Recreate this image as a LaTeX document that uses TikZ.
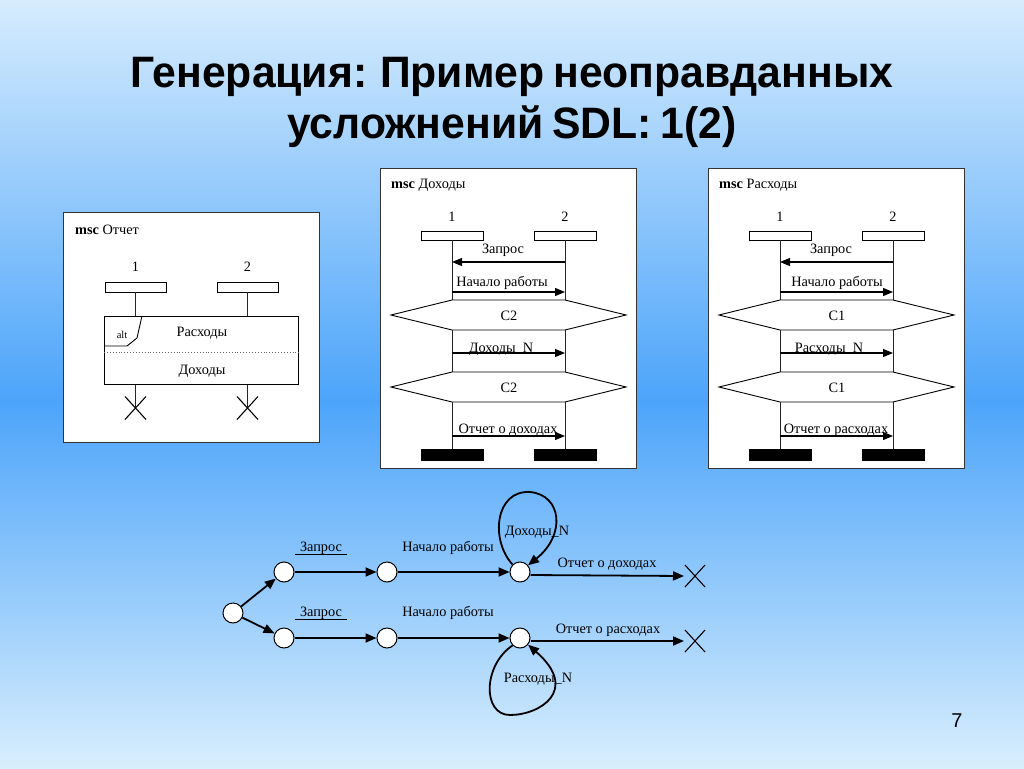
\documentclass[tikz,border=0pt]{standalone}
\usepackage{fontspec}
\setmainfont{Liberation Serif}
\newfontfamily\titlefont{Liberation Sans}[WordSpace=0.75]
\usetikzlibrary{arrows.meta}
\definecolor{bgtop}{HTML}{D6ECFD}
\definecolor{bgmid}{HTML}{4CA4FA}
\definecolor{bgbot}{HTML}{D8EEFD}
\newcommand\mscseq[7]{%
\begin{scope}[xshift=#2]
\node[mscbox, anchor=north west, minimum width=256pt, minimum height=300pt] (#1box) at (380,168) {};
\node[lbl, anchor=base west] (#1t) at (391,188) {\textbf{msc} #3};
\node[lbl] (#1n1) at (452,221) {1};
\node[lbl] (#1n2) at (565,221) {2};
\node[head] (#1h1) at (452,235.5) {};
\node[head] (#1h2) at (565,235.5) {};
\node[endbar] (#1e1) at (452,454.5) {};
\node[endbar] (#1e2) at (565,454.5) {};
\draw[life] (#1h1.south) -- (#1e1.north);
\draw[life] (#1h2.south) -- (#1e2.north);
\draw[msg] (#1h2 |- 0,262) -- (#1h1 |- 0,262);
\node[lbl] (#1m1) at (503,253) {Запрос};
\draw[msg] (#1h1 |- 0,292) -- (#1h2 |- 0,292);
\node[lbl] (#1m2) at (#7,286) {Начало работы};
\draw[hexa] (391,315) -- (#1h1 |- 0,300) -- (#1h2 |- 0,300) -- (626,315) -- (#1h2 |- 0,330) -- (#1h1 |- 0,330) -- cycle;
\node[lbl] (#1c1) at (509,320) {#4};
\draw[msg] (#1h1 |- 0,353) -- (#1h2 |- 0,353);
\node[lbl] (#1m3) at (501,352) {#5};
\draw[hexa] (391,387) -- (#1h1 |- 0,372) -- (#1h2 |- 0,372) -- (626,387) -- (#1h2 |- 0,402) -- (#1h1 |- 0,402) -- cycle;
\node[lbl] (#1c2) at (509,392) {#4};
\draw[msg] (#1h1 |- 0,436) -- (#1h2 |- 0,436);
\node[lbl] (#1m4) at (508,433) {#6};
\end{scope}}
\begin{document}
\begin{tikzpicture}[x=1pt,y=-1pt,
  mscbox/.style={draw=black!80, line width=1.4pt, fill=white, inner sep=0pt},
  lbl/.style={font=\fontsize{14.3}{16}\selectfont, inner sep=0pt, anchor=base},
  head/.style={draw=black, line width=0.9pt, fill=white, minimum width=62pt, minimum height=9pt, inner sep=0pt},
  endbar/.style={draw=black, fill=black, minimum width=62pt, minimum height=11pt, inner sep=0pt},
  life/.style={line width=1pt, black!85},
  hexa/.style={draw=black, line width=0.9pt, fill=white},
  msg/.style={line width=1.1pt, -{Triangle[length=10pt,width=8pt]}},
  gnode/.style={circle, draw=black, fill=white, line width=1pt, minimum size=20pt, inner sep=0pt},
  garr/.style={line width=1.8pt, -{Triangle[length=11pt,width=9pt]}},
  glbl/.style={font=\fontsize{14.3}{16}\selectfont, inner sep=0pt},
  cross/.style={line width=1.1pt},
  ttl/.style={font=\titlefont\bfseries\fontsize{44}{50}\selectfont, anchor=base, inner sep=0pt, xscale=0.97},
]
\useasboundingbox (0,0) rectangle (1024,768);
\shade[top color=bgtop, bottom color=bgmid] (0,0) rectangle (1024,401);
\shade[top color=bgmid, bottom color=bgbot] (0,400) rectangle (1024,768);

% title
\node[ttl] (t1) at (512,87) {Генерация: Пример неоправданных};
\node[ttl] (t2) at (512,138) {усложнений SDL: 1(2)};
\node[font=\titlefont\fontsize{20}{24}\selectfont, anchor=base, inner sep=0pt] (pg) at (957,727) {7};

% msc Otchet
\node[mscbox, anchor=north west, minimum width=256pt, minimum height=230pt] (obox) at (63,212) {};
\node[lbl, anchor=base west] (ot) at (75,234) {\textbf{msc} Отчет};
\node[lbl] (on1) at (135.5,271) {1};
\node[lbl] (on2) at (247.5,271) {2};
\node[head, minimum width=61pt, minimum height=10pt] (oh1) at (135.5,287) {};
\node[head, minimum width=61pt, minimum height=10pt] (oh2) at (247.5,287) {};
\node[draw=black, line width=1pt, fill=white, anchor=north west, minimum width=194pt, minimum height=68pt, inner sep=0pt] (oalt) at (104,316) {};
\draw[life] (oh1.south) -- (oh1.south |- oalt.north);
\draw[life] (oh2.south) -- (oh2.south |- oalt.north);
\draw[line width=0.9pt] (142,316) -- (137,338) -- (127,346) -- (oalt.west |- 0,346);
\node[font=\fontsize{10.5}{12}\selectfont, inner sep=0pt] (oaltl) at (122,335) {alt};
\node[lbl, anchor=center] (or) at (202,333) {Расходы};
\draw[dotted, line width=0.9pt, black!60] (oalt.west |- 0,352) -- (oalt.east |- 0,352);
\node[lbl, anchor=center] (od) at (202,371) {Доходы};
\coordinate (ox1) at (135.5,408);
\coordinate (ox2) at (247.5,408);
\draw[life] (oalt.south -| ox1) -- (ox1);
\draw[life] (oalt.south -| ox2) -- (ox2);
\foreach \c in {ox1,ox2} {
  \draw[cross] ([shift={(-10.5pt,11.5pt)}]\c) -- ([shift={(10.5pt,-11.5pt)}]\c);
  \draw[cross] ([shift={(-10.5pt,-11.5pt)}]\c) -- ([shift={(10.5pt,11.5pt)}]\c);
}

% msc Dokhody / Raskhody
\mscseq{d}{0pt}{Доходы}{C2}{Доходы\ \ N}{Отчет о доходах}{502}
\mscseq{r}{328pt}{Расходы}{C1}{Расходы\ \ N}{Отчет о расходах}{509}

% bottom graph
\node[gnode] (s) at (233,613) {};
\node[gnode] (a1) at (284,572) {};
\node[gnode] (a2) at (387,572) {};
\node[gnode] (a3) at (520,572) {};
\node[gnode] (b1) at (284,638) {};
\node[gnode] (b2) at (387,638) {};
\node[gnode] (b3) at (520,638) {};
\coordinate (xa) at (695,576);
\coordinate (xb) at (695,641);
\draw[garr] (s) -- (a1);
\draw[garr] (s) -- (b1);
\draw[garr] (a1) -- (a2);
\draw[garr] (a2) -- (a3);
\draw[garr] (b1) -- (b2);
\draw[garr] (b2) -- (b3);
\draw[garr] ([yshift=-3pt]a3.east) -- ([xshift=-11pt]xa);
\draw[garr] ([yshift=-3pt]b3.east) -- ([xshift=-11pt]xb);
\foreach \c in {xa,xb} {
  \draw[cross] ([shift={(-10pt,11pt)}]\c) -- ([shift={(10pt,-11pt)}]\c);
  \draw[cross] ([shift={(-10pt,-11pt)}]\c) -- ([shift={(10pt,11pt)}]\c);
}
\draw[garr] (a3.135) .. controls (490,540) and (495,490) .. (530,492) .. controls (562,495) and (566,535) .. (a3.40);
\draw[garr] (b3.225) .. controls (483,665) and (482,715) .. (510,715) .. controls (540,715) and (580,690) .. (b3.-40);
\node[glbl] (la) at (321,548) {Запрос};
\draw[line width=0.9pt] (295,554) -- (347,554);
\node[glbl] (lb) at (321,613) {Запрос};
\draw[line width=0.9pt] (295,619) -- (347,619);
\node[glbl] (lc) at (448,548) {Начало работы};
\node[glbl] (ld) at (448,613) {Начало работы};
\node[glbl] (le) at (607,564) {Отчет о доходах};
\node[glbl] (lf) at (608,630) {Отчет о расходах};
\node[glbl] (lg) at (537,532) {Доходы\_N};
\node[glbl] (lh) at (538,679) {Расходы\_N};
\end{tikzpicture}
\end{document}
